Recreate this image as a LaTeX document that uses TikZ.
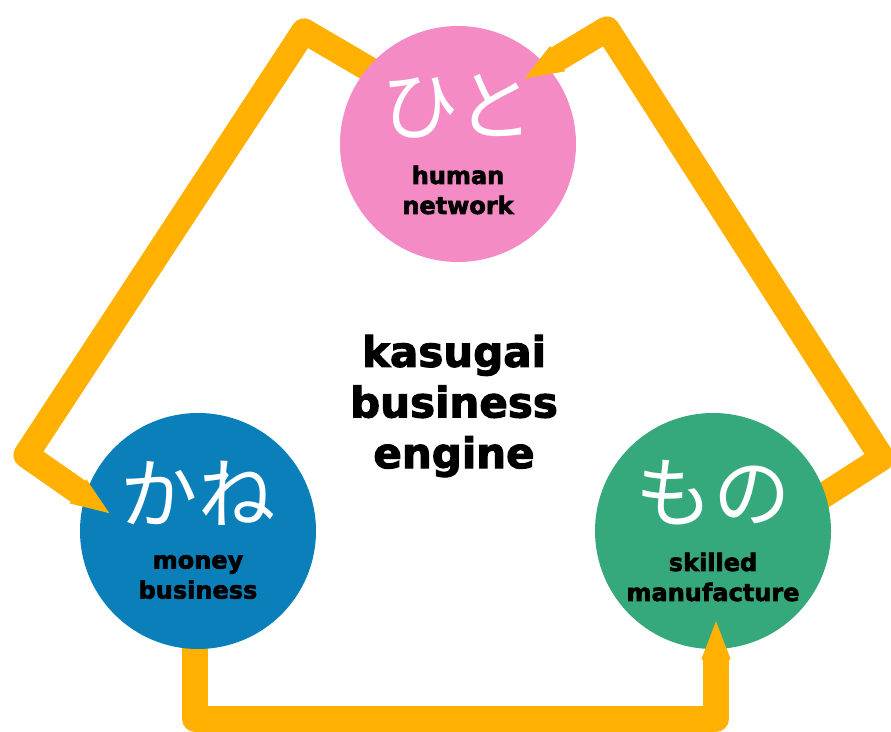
\documentclass[tikz,border=0pt]{standalone}
\usepackage{fontspec}
\setmainfont{DejaVu Sans}[BoldFeatures={FakeBold=2.6}]
\newfontfamily\jpfont{Noto Sans CJK JP}
\usetikzlibrary{calc,arrows.meta,backgrounds}

\definecolor{bandOrange}{HTML}{FFB000}
\definecolor{hitoPink}{HTML}{F58BC4}
\definecolor{kaneBlue}{HTML}{0A7FBA}
\definecolor{monoGreen}{HTML}{35A87C}

\begin{document}
\begin{tikzpicture}[
    x=0.75pt, y=-0.75pt,
    % 统一样式
    band_style/.style={draw=bandOrange, line width=19pt, line join=round},
    tip_style/.style={-{Triangle[length=31pt, width=19pt]}},
    ball_style/.style={circle, minimum size=177pt, inner sep=0},
    kana_style/.style={text=white, font=\jpfont\fontsize{58}{62}\selectfont, inner sep=0},
    label_style/.style={align=center, inner sep=0, font=\bfseries\fontsize{18}{22.5}\selectfont}
]
    \useasboundingbox (0,0) rectangle (891,731);

    % --- 圆圈宏 ---
    \newcommand{\yq}[5]{
        \node[ball_style, fill=#3] (#1) at (#2) {};
        \node[kana_style] (#1_kana) at ($(#1.center)+(0,-38)$) {#4};
        \node[label_style] (#1_label) at ($(#1.center)+(0,46)$) {#5};
    }

    % --- 三个圆圈 ---
    \yq{hito}{458,144}{hitoPink}{ひと}{human\\network}
    \yq{kane}{198,531}{kaneBlue}{かね}{money\\business}
    \yq{mono}{713,531}{monoGreen}{もの}{skilled\\manufacture}

    % 中间文字
    \node[align=center, inner sep=0, font=\bfseries\fontsize{31.5}{38}\selectfont] (engine) at (454,406) {kasugai\\business\\engine};

    % --- 折线的拐点 ---
    \coordinate (top_left) at (304,31);
    \coordinate (left_corner) at (26,455);
    \coordinate (top_right) at (607,29);
    \coordinate (right_corner) at (882,458);
    \coordinate (bottom_left) at (195,719);
    \coordinate (bottom_right) at (716,719);

    % 尾部藏在圆圈后面, 箭头尖在圆圈里面
    \coordinate (hito_tail) at ($(hito.center)+(-67,-62)$);
    \coordinate (mono_tail) at ($(mono.center)+(80,-16)$);
    \coordinate (kane_tail) at ($(kane.center)+(-3,69)$);
    \coordinate (kane_tip) at ($(kane.center)+(-86,-16)$);
    \coordinate (hito_tip) at ($(hito.center)+(64,-64)$);
    \coordinate (mono_tip) at ($(mono.center)+(3,87)$);

    \begin{scope}[on background layer]
        \draw[band_style, tip_style] (hito_tail) -- (top_left) -- (left_corner) -- (kane_tip);
        \draw[band_style, tip_style] (mono_tail) -- (right_corner) -- (top_right) -- (hito_tip);
        \draw[band_style, tip_style] (kane_tail) -- (bottom_left) -- (bottom_right) -- (mono_tip);
    \end{scope}

    % 箭头尖压在圆圈上面
    \draw[band_style, tip_style] (left_corner) -- (kane_tip);
    \draw[band_style, tip_style] (top_right) -- (hito_tip);
    \draw[band_style, tip_style] (bottom_right) -- (mono_tip);

\end{tikzpicture}
\end{document}
